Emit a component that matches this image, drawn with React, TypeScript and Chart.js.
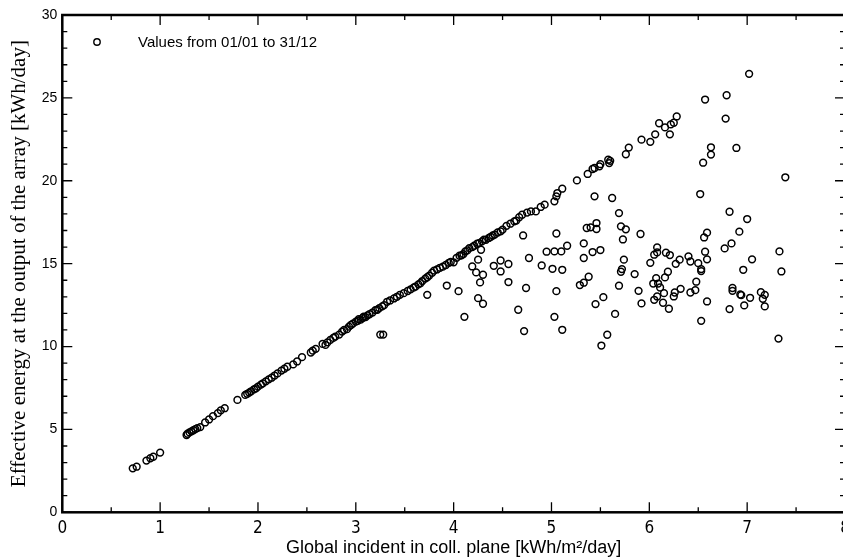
import React, { useEffect, useRef } from "react";
import { Chart, registerables } from "chart.js";

Chart.register(...registerables);

const CANVAS_W = 870;
const CANVAS_H = 560;

const seriesLabel = "Values from 01/01 to 31/12";
const xTitle = "Global incident in coll. plane [kWh/m²/day]";
const yTitle = "Effective energy at the output of the array [kWh/day]";

const xTicks = [0, 1, 2, 3, 4, 5, 6, 7, 8];
const yTicks = [0, 5, 10, 15, 20, 25, 30];
const xMinorTicks = [0.5, 1.5, 2.5, 3.5, 4.5, 5.5, 6.5, 7.5];
const yMinorTicks = [1, 2, 3, 4, 6, 7, 8, 9, 11, 12, 13, 14, 16, 17, 18, 19, 21, 22, 23, 24, 26, 27, 28, 29];

// days lying on the main (clear-sky) line
const lineX = [
  0.72, 0.76, 0.86, 0.9, 0.93, 1.0, 1.27, 1.28, 1.3, 1.32, 1.34, 1.36, 1.38, 1.41, 1.46, 1.5, 1.54, 1.59, 1.62, 1.66,
  1.79, 1.87, 1.89, 1.91, 1.93, 1.96, 1.98, 2.0, 2.03, 2.05, 2.08, 2.11, 2.14, 2.17, 2.2, 2.24, 2.27, 2.3, 2.36, 2.4,
  2.45, 2.54, 2.56, 2.59, 2.66, 2.69, 2.71, 2.74, 2.77, 2.79, 2.83, 2.86, 2.88, 2.91, 2.93, 2.95, 2.97, 3.0, 3.02, 3.03,
  3.05, 3.07, 3.08, 3.1, 3.12, 3.14, 3.17, 3.2, 3.22, 3.24, 3.27, 3.29, 3.32, 3.35, 3.39, 3.42, 3.45, 3.49, 3.53, 3.56,
  3.59, 3.61, 3.64, 3.66, 3.68, 3.71, 3.73, 3.75, 3.78, 3.8, 3.83, 3.86, 3.89, 3.92, 3.95, 3.97, 4.0, 4.03, 4.06, 4.08,
  4.1, 4.12, 4.14, 4.16, 4.19, 4.21, 4.24, 4.26, 4.29, 4.31, 4.33, 4.36, 4.38, 4.4, 4.42, 4.45, 4.48, 4.5, 4.54, 4.58,
  4.62, 4.64, 4.67, 4.7, 4.75, 4.79, 4.84, 4.89, 4.93, 5.03, 5.05, 5.06, 5.11, 5.26, 5.37, 5.42, 5.44, 5.49, 5.5, 5.58,
  5.59, 5.6, 5.76, 5.79, 5.92, 6.01, 6.06, 6.1, 6.16, 6.21, 6.22, 6.25, 6.28,
];
const lineY = [
  2.65, 2.75, 3.12, 3.26, 3.35, 3.6, 4.66, 4.74, 4.82, 4.88, 4.95, 5.02, 5.08, 5.14, 5.42, 5.6, 5.8, 5.98, 6.15, 6.28,
  6.78, 7.08, 7.15, 7.22, 7.3, 7.42, 7.48, 7.58, 7.7, 7.78, 7.9, 8.02, 8.12, 8.25, 8.38, 8.55, 8.66, 8.78, 8.92, 9.1,
  9.36, 9.64, 9.75, 9.86, 10.16, 10.1, 10.25, 10.4, 10.52, 10.6, 10.72, 10.9, 11.0, 11.05, 11.2, 11.3, 11.38, 11.5, 11.55, 11.65,
  11.62, 11.72, 11.8, 11.78, 11.88, 11.95, 12.05, 12.2, 12.22, 12.32, 12.42, 12.5, 12.7, 12.78, 12.9, 13.0, 13.12, 13.22, 13.35, 13.45,
  13.55, 13.62, 13.75, 13.82, 13.95, 14.1, 14.18, 14.28, 14.45, 14.58, 14.65, 14.75, 14.82, 14.92, 15.05, 15.1, 15.08, 15.35, 15.48, 15.5,
  15.58, 15.74, 15.8, 15.94, 16.0, 16.08, 16.2, 16.24, 16.34, 16.45, 16.44, 16.55, 16.62, 16.7, 16.75, 16.88, 16.95, 17.05, 17.28, 17.41,
  17.55, 17.6, 17.8, 17.95, 18.08, 18.15, 18.15, 18.42, 18.56, 18.76, 19.06, 19.26, 19.52, 20.02, 20.41, 20.71, 20.77, 20.87, 21.0, 21.27,
  21.07, 21.2, 21.6, 22.0, 22.48, 22.35, 22.8, 23.47, 23.22, 22.8, 23.4, 23.5, 23.88,
];

// days falling below the line (limited output)
const spreadX = [
  3.25, 3.28, 3.73, 3.93, 4.05, 4.11, 4.19, 4.23, 4.25, 4.28, 4.3, 4.27, 4.25, 4.3, 4.41, 4.48, 4.48, 4.56, 4.56, 4.66,
  4.71, 4.72, 4.74, 4.77, 4.9, 4.95, 5.01, 5.03, 5.03, 5.05, 5.05, 5.1, 5.11, 5.11, 5.16, 5.29, 5.33, 5.33, 5.33, 5.36,
  5.38, 5.4, 5.42, 5.44, 5.45, 5.46, 5.46, 5.5, 5.51, 5.53, 5.57, 5.62, 5.65, 5.69, 5.69, 5.71, 5.73, 5.71, 5.72, 5.74,
  5.76, 5.85, 5.89, 5.91, 5.92, 6.01, 6.04, 6.05, 6.05, 6.07, 6.08, 6.08, 6.08, 6.09, 6.11, 6.14, 6.15, 6.16, 6.17, 6.19,
  6.2, 6.21, 6.25, 6.26, 6.27, 6.31, 6.32, 6.4, 6.42, 6.42, 6.47, 6.48, 6.5, 6.52, 6.53, 6.53, 6.53, 6.55, 6.56, 6.57,
  6.57, 6.59, 6.59, 6.59, 6.63, 6.63, 6.77, 6.78, 6.79, 6.82, 6.82, 6.84, 6.85, 6.85, 6.89, 6.92, 6.93, 6.94, 6.96, 6.97,
  7.0, 7.02, 7.03, 7.05, 7.14, 7.16, 7.18, 7.18, 7.32, 7.33, 7.35, 7.39,
];
const spreadY = [
  10.72, 10.72, 13.12, 13.68, 13.34, 11.79, 14.83, 14.47, 15.24, 15.84, 14.33, 13.87, 12.92, 12.58, 14.87, 15.19, 14.53, 14.98, 13.89, 12.22,
  16.7, 10.93, 13.53, 15.34, 14.89, 15.72, 14.69, 15.74, 11.79, 13.34, 16.82, 15.74, 14.63, 11.01, 16.08, 13.71, 13.85, 16.22, 15.34, 17.15,
  14.21, 17.19, 15.7, 19.06, 12.56, 17.45, 17.09, 15.82, 10.06, 12.98, 10.71, 18.96, 11.97, 18.05, 13.67, 17.25, 16.46, 14.51, 14.67, 15.24,
  17.07, 14.37, 13.36, 16.79, 12.6, 15.05, 13.8, 15.54, 12.82, 14.13, 13.02, 15.98, 15.68, 13.8, 13.56, 12.64, 13.22, 14.17, 15.66, 14.51,
  12.28, 15.52, 13.02, 13.26, 14.99, 15.24, 13.48, 15.44, 15.13, 13.26, 13.4, 13.91, 15.03, 19.2, 14.67, 14.55, 11.55, 21.09, 16.58, 15.72,
  24.9, 15.26, 12.72, 16.87, 22.02, 21.58, 15.92, 23.75, 25.16, 18.13, 12.26, 16.22, 13.53, 13.36, 21.98, 16.93, 13.14, 13.1, 14.63, 12.48,
  17.69, 26.45, 12.94, 15.26, 13.28, 12.88, 13.12, 12.42, 10.48, 15.74, 14.53, 20.21,
];

const frameAndTicks = {
  id: "frameAndTicks",
  afterDatasetsDraw(chart: any) {
    const { ctx, chartArea, scales } = chart;
    const { left, right, top, bottom } = chartArea;
    const xs = scales.x;
    const ys = scales.y;
    ctx.save();
    ctx.strokeStyle = "#000";
    ctx.lineWidth = 1.3;
    ctx.beginPath();
    const xMark = (v: number, len: number) => {
      const p = xs.getPixelForValue(v);
      ctx.moveTo(p, bottom);
      ctx.lineTo(p, bottom - len);
      ctx.moveTo(p, top);
      ctx.lineTo(p, top + len);
    };
    const yMark = (v: number, len: number) => {
      const p = ys.getPixelForValue(v);
      ctx.moveTo(left, p);
      ctx.lineTo(left + len, p);
      ctx.moveTo(right, p);
      ctx.lineTo(right - len, p);
    };
    xTicks.forEach((v) => xMark(v, 10));
    xMinorTicks.forEach((v) => xMark(v, 5));
    yTicks.forEach((v) => yMark(v, 10));
    yMinorTicks.forEach((v) => yMark(v, 5));
    ctx.stroke();
    ctx.lineWidth = 2.5;
    ctx.strokeRect(left, top, right - left, bottom - top);
    ctx.restore();
  },
};

const insideLegend = {
  id: "insideLegend",
  afterDraw(chart: any) {
    const { ctx } = chart;
    const ds = chart.data.datasets[0];
    ctx.save();
    ctx.strokeStyle = "#000";
    ctx.lineWidth = 1.4;
    ctx.beginPath();
    ctx.arc(97, 42, 3.2, 0, Math.PI * 2);
    ctx.stroke();
    ctx.fillStyle = "#000";
    ctx.font = "15px 'Liberation Sans', Arial, sans-serif";
    ctx.textBaseline = "middle";
    ctx.textAlign = "left";
    ctx.fillText(ds.label, 138, 43);
    ctx.restore();
  },
};

export default function App() {
  const ref = useRef<HTMLCanvasElement | null>(null);

  useEffect(() => {
    if (!ref.current) return;
    const points = [
      ...lineX.map((x, i) => ({ x, y: lineY[i] })),
      ...spreadX.map((x, i) => ({ x, y: spreadY[i] })),
    ];
    const chart = new Chart(ref.current, {
      type: "scatter",
      data: {
        datasets: [
          {
            label: seriesLabel,
            data: points,
            pointStyle: "circle",
            pointRadius: 3.4,
            pointHoverRadius: 3.4,
            pointBorderWidth: 1.5,
            borderColor: "#000",
            backgroundColor: "rgba(0,0,0,0)",
          },
        ],
      },
      options: {
        responsive: false,
        animation: false,
        events: [],
        layout: { padding: { left: 0, top: 15, right: CANVAS_W - 845, bottom: 0 } },
        plugins: { legend: { display: false }, tooltip: { enabled: false } },
        scales: {
          x: {
            type: "linear",
            min: 0,
            max: 8,
            afterFit: (s: any) => {
              s.height = 47.7;
            },
            afterBuildTicks: (s: any) => {
              s.ticks = xTicks.map((v) => ({ value: v }));
            },
            grid: { display: false, drawTicks: false },
            border: { display: false },
            ticks: {
              autoSkip: false,
              maxRotation: 0,
              padding: 6,
              color: "#000",
              font: { family: "'Liberation Sans Narrow', 'DejaVu Sans Condensed', 'Liberation Sans', sans-serif", size: 17 },
            },
            title: {
              display: true,
              text: xTitle,
              color: "#000",
              font: { family: "'Liberation Sans', Arial, sans-serif", size: 18 },
              padding: { top: 0, bottom: 1 },
            },
          },
          y: {
            type: "linear",
            min: 0,
            max: 30,
            afterFit: (s: any) => {
              s.width = 62.3;
            },
            afterBuildTicks: (s: any) => {
              s.ticks = yTicks.map((v) => ({ value: v }));
            },
            grid: { display: false, drawTicks: false },
            border: { display: false },
            ticks: {
              autoSkip: false,
              padding: 5,
              color: "#000",
              font: { family: "'Liberation Sans', Arial, sans-serif", size: 14 },
            },
            title: {
              display: true,
              text: yTitle,
              color: "#000",
              font: { family: "'Liberation Serif', 'Times New Roman', serif", size: 21 },
              padding: { top: 7, bottom: 0 },
            },
          },
        },
      },
      plugins: [frameAndTicks, insideLegend],
    });
    return () => chart.destroy();
  }, []);

  return (
    <div style={{ position: "fixed", left: 0, top: 0, width: 843, height: 560, overflow: "hidden", background: "#fff" }}>
      <canvas ref={ref} width={CANVAS_W} height={CANVAS_H} style={{ display: "block" }} />
    </div>
  );
}
